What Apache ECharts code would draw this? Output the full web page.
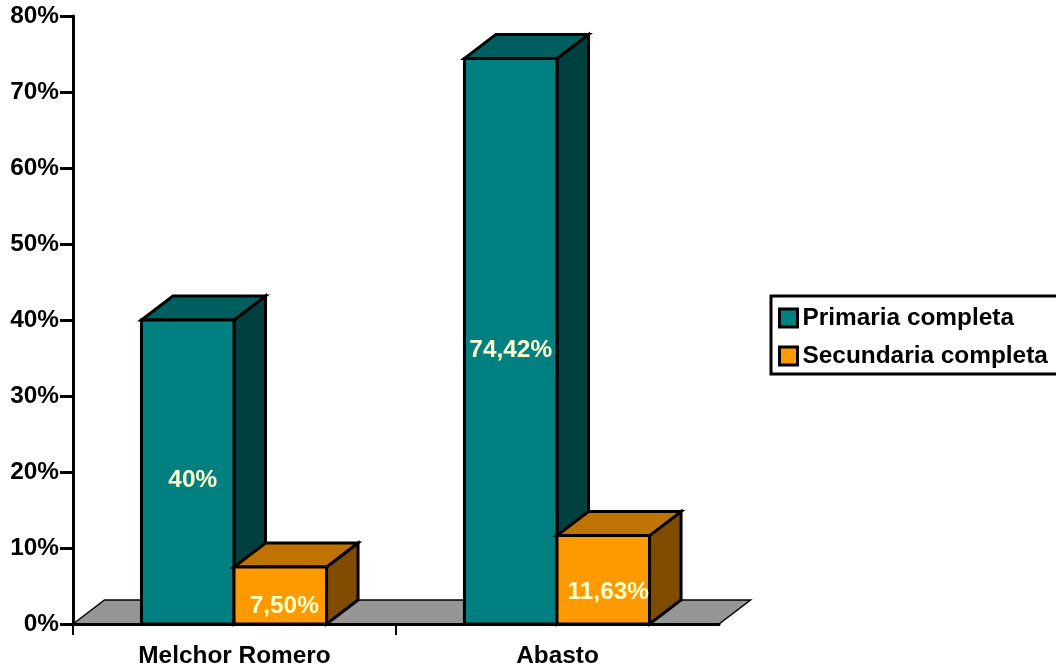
<!DOCTYPE html>
<html><head><meta charset="utf-8">
<style>html,body{margin:0;padding:0;background:#fff}#c{width:1056px;height:670px}</style>
<script src="https://cdn.jsdelivr.net/npm/echarts@6/dist/echarts.min.js"></script>
</head><body><div id="c"></div>
<script>
const categories = ["Melchor Romero", "Abasto"];
const seriesNames = ["Primaria completa", "Secundaria completa"];
const primaria = [40, 74.42];
const secundaria = [7.5, 11.63];
const primariaLabels = ["40%", "74,42%"];
const secundariaLabels = ["7,50%", "11,63%"];

const FONT = '"Liberation Sans", Arial, sans-serif';
const FS = 24.4;
const DX = 31.5, DY = -24, BAR_FRAC = 0.2865, SHIFT = -0.5;
const palette = [
  {front:'#008080', top:'#006060', side:'#004040'},
  {front:'#FF9900', top:'#BF7300', side:'#804D00'}
];
const nudges = [
  [[5,8],[0,9]],
  [[4,11],[5,12]]
];
const edge = {stroke:'#000', lineWidth:3, lineJoin:'miter'};

function barRender(si, labels){
  return function(params, api){
    const i = api.value(0), v = api.value(1);
    const c = api.coord([i, v]), b = api.coord([i, 0]);
    const w = api.size([1,0])[0] * BAR_FRAC;
    const x0 = (si === 0 ? c[0]-w : c[0]) + SHIFT, x1 = x0 + w;
    const yt = c[1], yb = b[1];
    const col = palette[si];
    const n = nudges[si][i];
    return {type:'group', children:[
      {type:'polygon', shape:{points:[[x1,yt],[x1+DX,yt+DY],[x1+DX,yb+DY],[x1,yb]]}, style:Object.assign({fill:col.side},edge)},
      {type:'polygon', shape:{points:[[x0,yt],[x0+DX,yt+DY],[x1+DX,yt+DY],[x1,yt]]}, style:Object.assign({fill:col.top},edge)},
      {type:'rect', shape:{x:x0,y:yt,width:w,height:yb-yt}, style:Object.assign({fill:col.front},edge)},
      {type:'text', z2:5, style:{x:(x0+x1)/2+n[0], y:(yt+yb)/2+n[1], text:labels[i], fill:'#FFFFCC',
        font:'bold '+FS+'px '+FONT, align:'center', verticalAlign:'middle'}}
    ]};
  };
}
function floorRender(params, api){
  const band = api.size([1,0])[0];
  const a = api.coord([0,0]), z = api.coord([categories.length-1,0]);
  const l = a[0]-band/2, r = z[0]+band/2, y = a[1];
  const kids = [{type:'polygon', shape:{points:[[l,y],[l+DX,y+DY],[r+DX,y+DY],[r,y]]},
    style:{fill:'#969696', stroke:'#000', lineWidth:1.5}}];
  categories.forEach((_,i)=>{
    const x = api.coord([i,0])[0]-band/2;
    kids.push({type:'line', shape:{x1:x,y1:y,x2:x,y2:y+11}, style:{stroke:'#000',lineWidth:2}});
  });
  return {type:'group', children:kids};
}
const chart = echarts.init(document.getElementById('c'));
chart.setOption({
  animation:false,
  backgroundColor:'#fff',
  grid:{left:73, top:16, width:646, height:608, containLabel:false},
  xAxis:{type:'category', data:categories, z:6,
    axisLine:{lineStyle:{color:'#000',width:3}},
    axisTick:{show:false},
    axisLabel:{color:'#000',fontFamily:FONT,fontWeight:'bold',fontSize:FS,margin:20},
    splitLine:{show:false}},
  yAxis:{type:'value', min:0, max:80, interval:10, z:6,
    axisLine:{show:true,lineStyle:{color:'#000',width:3}},
    axisTick:{show:true,length:13,lineStyle:{color:'#000',width:3}},
    axisLabel:{color:'#000',fontFamily:FONT,fontWeight:'bold',fontSize:FS,margin:14,formatter:'{value}%'},
    splitLine:{show:false}},
  legend:{show:true, orient:'vertical', left:771, top:296, data:seriesNames, icon:'rect',
    itemWidth:18, itemHeight:18, itemGap:14, padding:[10,40,6,7], borderColor:'#000', borderWidth:3,
    backgroundColor:'#fff', selectedMode:false,
    itemStyle:{borderColor:'#000',borderWidth:3},
    textStyle:{color:'#000',fontFamily:FONT,fontWeight:'bold',fontSize:FS,padding:[0,0,0,0]}},
  series:[
    {type:'custom', name:'floor', silent:true, renderItem:floorRender, data:[[0,0]], encode:{x:0,y:1}, z:1},
    {type:'custom', name:seriesNames[0], renderItem:barRender(0,primariaLabels), z:2,
     itemStyle:{color:palette[0].front,borderColor:'#000',borderWidth:3},
     data:primaria.map((v,i)=>[i,v]), encode:{x:0,y:1}},
    {type:'custom', name:seriesNames[1], renderItem:barRender(1,secundariaLabels), z:3,
     itemStyle:{color:palette[1].front,borderColor:'#000',borderWidth:3},
     data:secundaria.map((v,i)=>[i,v]), encode:{x:0,y:1}}
  ]
});
</script></body></html>
